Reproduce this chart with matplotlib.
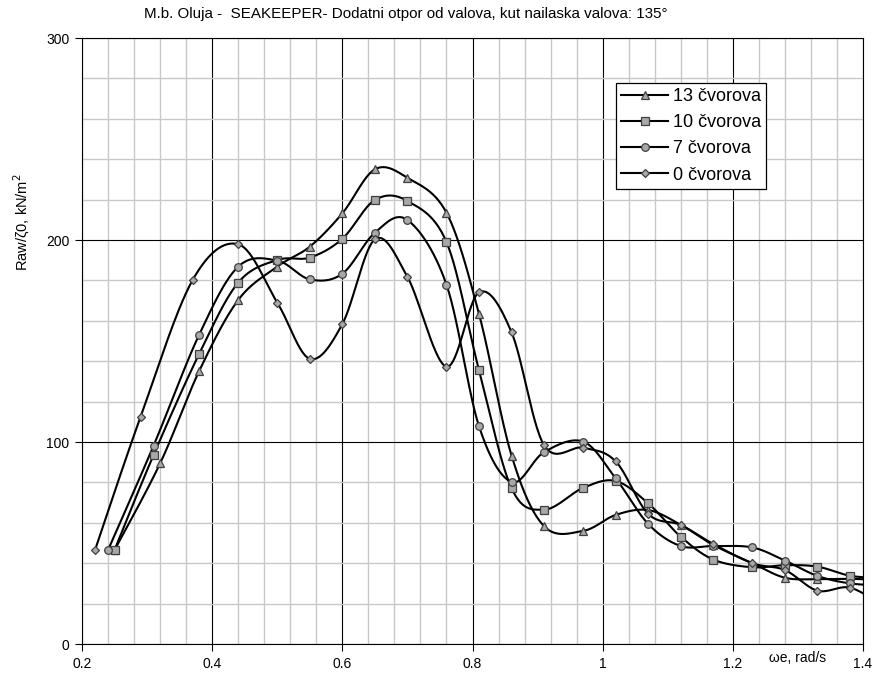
import numpy as np
import matplotlib
matplotlib.use("Agg")
import matplotlib.pyplot as plt
from matplotlib.ticker import MultipleLocator
from matplotlib.transforms import blended_transform_factory

plt.rcParams['font.family'] = ['Liberation Sans', 'DejaVu Sans']

title = "M.b. Oluja -  SEAKEEPER- Dodatni otpor od valova, kut nailaska valova: 135°"
labels = ["13 čvorova", "10 čvorova", "7 čvorova", "0 čvorova"]

common_x = [0.44, 0.50, 0.55, 0.60, 0.65, 0.70, 0.76, 0.81, 0.86, 0.91, 0.97,
            1.02, 1.07, 1.12, 1.17, 1.23, 1.28, 1.33, 1.38, 1.43]

x_13 = [0.25, 0.32, 0.38] + common_x
y_13 = [46.5, 89.4, 135.1, 170.3, 186.8, 196.7, 213.2, 235.0, 230.8, 213.5, 163.4,
        93.3, 58.3, 56.0, 63.9, 66.3, 59.0, 49.0, 40.0, 32.8, 32.1, 32.3, 31.5]

x_10 = [0.25, 0.31, 0.38] + common_x
y_10 = [46.5, 93.6, 143.6, 178.9, 190.1, 191.3, 200.6, 219.8, 219.3, 199.0, 135.6,
        77.1, 66.5, 77.3, 80.7, 69.6, 53.1, 41.8, 38.0, 39.0, 38.3, 33.8, 32.5]

x_7 = [0.24, 0.31, 0.38] + common_x
y_7 = [46.5, 98.2, 153.1, 186.8, 189.8, 180.5, 183.3, 203.6, 209.9, 177.9, 107.8,
       80.2, 95.0, 100.2, 82.0, 59.4, 48.5, 48.5, 47.8, 41.3, 33.7, 30.0, 29.0]

x_0 = [0.22, 0.29, 0.37] + common_x
y_0 = [46.5, 112.5, 180.2, 197.9, 169.0, 141.2, 158.4, 200.3, 181.8, 137.3, 174.1,
       154.3, 98.4, 97.2, 90.4, 64.4, 58.9, 49.5, 40.0, 36.6, 26.4, 27.9, 19.0]

series = [(x_13, y_13, '^', 5.5), (x_10, y_10, 's', 5.5), (x_7, y_7, 'o', 5.5), (x_0, y_0, 'D', 3.8)]


def smooth(xs, ys, n=30):
    P = np.column_stack([xs, ys]).astype(float)
    out = [P[0]]
    N = len(P)
    for i in range(N - 1):
        p0 = P[i - 1] if i > 0 else P[i]
        p1 = P[i]
        p2 = P[i + 1]
        p3 = P[i + 2] if i + 2 < N else P[i + 1]
        c1 = p1 + (p2 - p0) / 6.0
        c2 = p2 - (p3 - p1) / 6.0
        t = np.linspace(0, 1, n)[1:, None]
        seg = ((1 - t) ** 3) * p1 + 3 * ((1 - t) ** 2) * t * c1 + 3 * (1 - t) * t ** 2 * c2 + t ** 3 * p2
        out.extend(seg)
    out = np.array(out)
    return out[:, 0], out[:, 1]


fig = plt.figure(figsize=(8.72, 6.73), dpi=100)
ax = fig.add_axes([82 / 872, 1 - 644 / 673, (863 - 82) / 872, (644 - 38) / 673])

ax.set_xlim(0.2, 1.4)
ax.set_ylim(0, 300)
ax.xaxis.set_major_locator(MultipleLocator(0.2))
ax.xaxis.set_minor_locator(MultipleLocator(0.04))
ax.yaxis.set_major_locator(MultipleLocator(100))
ax.yaxis.set_minor_locator(MultipleLocator(20))
ax.grid(which='minor', color='#c8c8c8', lw=1.0, zorder=0)
ax.grid(which='major', color='black', lw=0.8, zorder=0.5)
ax.set_axisbelow(True)
ax.tick_params(which='minor', length=0)
ax.tick_params(which='major', length=5, width=0.8, direction='out', labelsize=10, pad=4)
for s in ax.spines.values():
    s.set_color('black')
    s.set_linewidth(0.8)

ax.set_xticks([0.2, 0.4, 0.6, 0.8, 1.0, 1.2, 1.4])
ax.set_xticklabels(['0.2', '0.4', '0.6', '0.8', '1', '1.2', '1.4'])
ax.set_yticks([0, 100, 200, 300])

handles = []
for (xs, ys, m, ms), lab in zip(series, labels):
    sx, sy = smooth(xs, ys)
    ax.plot(sx, sy, color='black', lw=1.5, zorder=3, clip_on=True)
    xs_a = np.array(xs); ys_a = np.array(ys)
    keep = xs_a <= 1.4
    ax.plot(xs_a[keep], ys_a[keep], ls='none', marker=m, ms=ms, mfc='#a8a8a8',
            mec='#404040', mew=0.9, zorder=4)
    h, = ax.plot([], [], color='black', lw=1.5, marker=m, ms=ms, mfc='#a8a8a8',
                 mec='#404040', mew=0.9)
    handles.append(h)

leg = ax.legend(handles, labels, loc='upper left', bbox_to_anchor=((616 - 82) / 781, 1 - (83 - 38) / 606),
                frameon=True, fancybox=False, edgecolor='black', framealpha=1, fontsize=13,
                handlelength=2.6, handletextpad=0.25, borderpad=0.3, labelspacing=0.5,
                borderaxespad=0)
leg.get_frame().set_linewidth(0.9)
leg.set_zorder(10)

fig.text(406 / 872, 1 - 14 / 673, title, ha='center', va='center', fontsize=10.9)
fig.text(22 / 872, 1 - 222 / 673, "Raw/ζ0, kN/m$^2$", rotation=90, ha='center', va='center', fontsize=10.5)
trans = blended_transform_factory(ax.transData, ax.transAxes)
ax.text(1.3, -0.012, "ωe, rad/s", transform=trans, ha='center', va='top', fontsize=10,
        bbox=dict(facecolor='white', edgecolor='none', pad=1))

fig.savefig("out.png", dpi=100)
